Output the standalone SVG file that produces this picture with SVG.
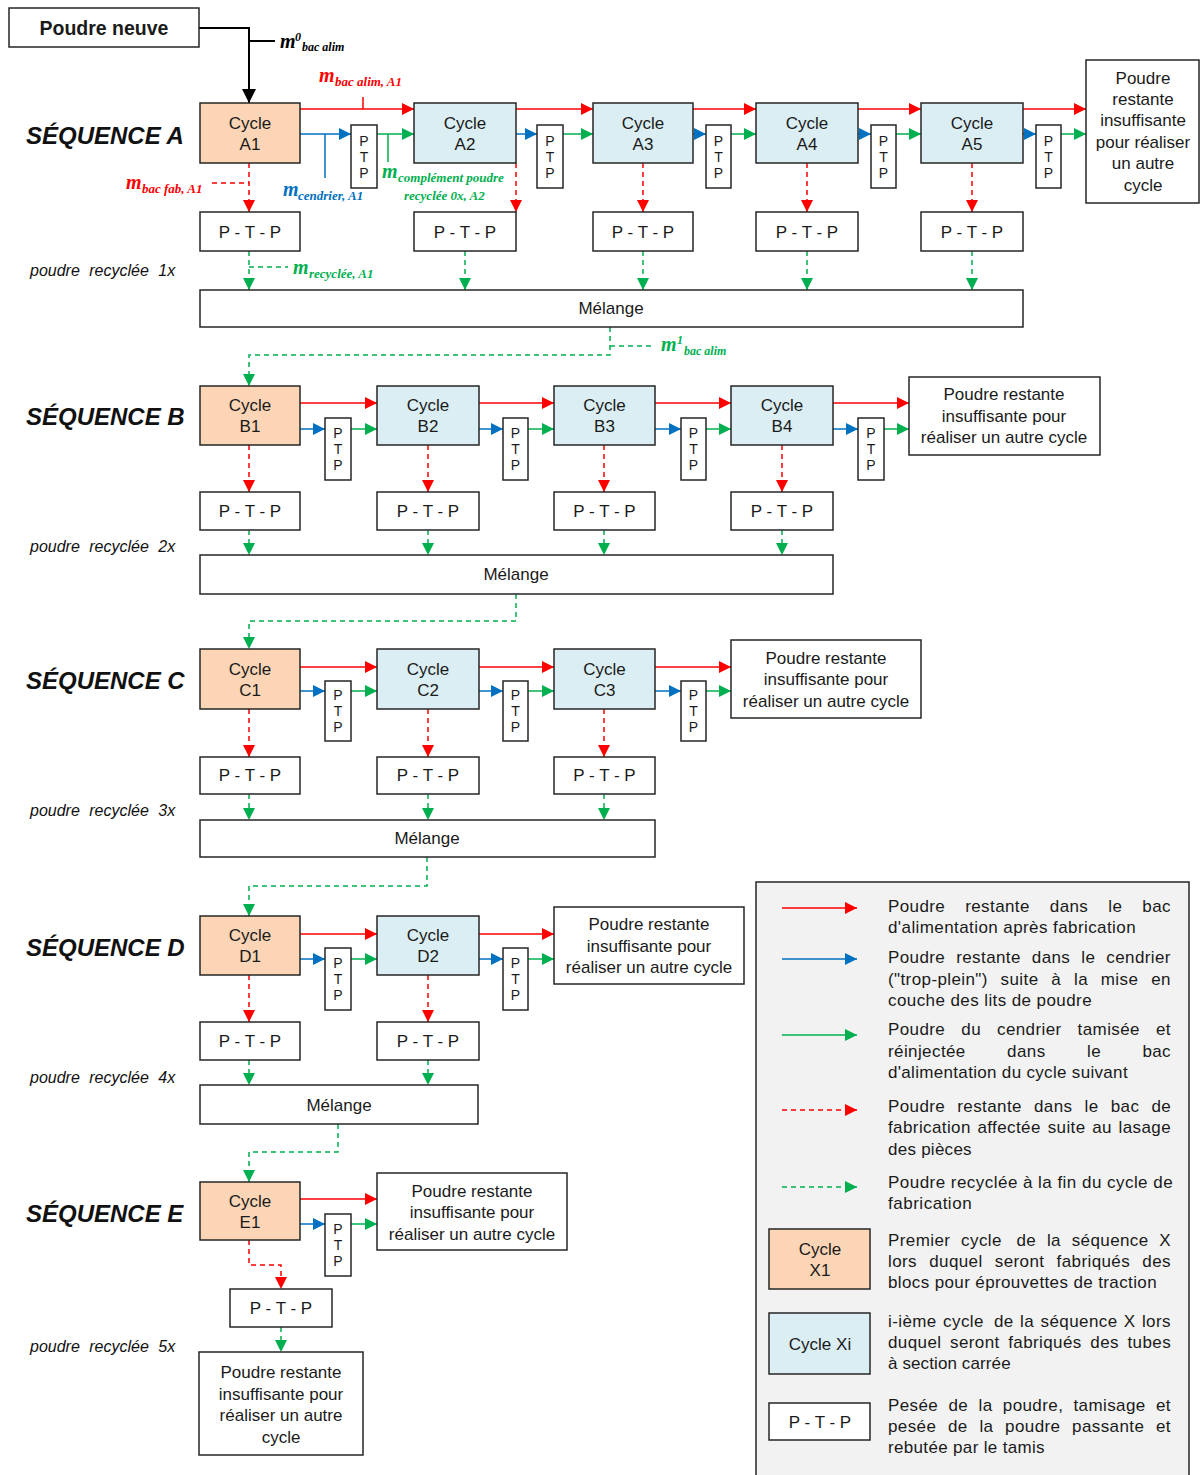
<svg xmlns="http://www.w3.org/2000/svg" width="1200" height="1475" viewBox="0 0 1200 1475">
<style>
.box{stroke:#262626;stroke-width:1.5}
.c1{fill:#FBD5B5}
.ci{fill:#DBEEF3}
.w{fill:#fff}
.t{font-family:"Liberation Sans",Arial,sans-serif;font-size:17px;fill:#1a1a1a;text-anchor:middle}
.p{font-size:14px}
.seq{font-family:"Liberation Sans",Arial,sans-serif;font-weight:bold;font-style:italic;font-size:24px;fill:#111}
.rec{font-family:"Liberation Sans",Arial,sans-serif;font-style:italic;font-size:16px;word-spacing:5px;fill:#111}
.lg{font-family:"Liberation Sans",Arial,sans-serif;font-size:17px;letter-spacing:0.4px;fill:#1a1a1a}
.mm{font-family:"Liberation Serif","Times New Roman",serif;font-weight:bold;font-style:italic}
.r{stroke:#FF0000;stroke-width:1.5;fill:none}
.b{stroke:#0070C0;stroke-width:1.5;fill:none}
.g{stroke:#00B050;stroke-width:1.5;fill:none}
.k{stroke:#000;stroke-width:2;fill:none}
.d{stroke-dasharray:5 4}
</style>
<defs>
<marker id="ar" viewBox="0 0 12 12" refX="12" refY="6" markerWidth="12" markerHeight="12" markerUnits="userSpaceOnUse" orient="auto"><path d="M0,0 L12,6 L0,12z" fill="#FF0000"/></marker>
<marker id="ab" viewBox="0 0 12 12" refX="12" refY="6" markerWidth="12" markerHeight="12" markerUnits="userSpaceOnUse" orient="auto"><path d="M0,0 L12,6 L0,12z" fill="#0070C0"/></marker>
<marker id="ag" viewBox="0 0 12 12" refX="12" refY="6" markerWidth="12" markerHeight="12" markerUnits="userSpaceOnUse" orient="auto"><path d="M0,0 L12,6 L0,12z" fill="#00B050"/></marker>
<marker id="ak" viewBox="0 0 12 12" refX="12" refY="6" markerWidth="14" markerHeight="14" markerUnits="userSpaceOnUse" orient="auto"><path d="M0,0 L12,6 L0,12z" fill="#000"/></marker>
</defs>
<rect width="1200" height="1475" fill="#fff"/>

<g id="legend">
<rect x="756" y="882" width="433" height="600" fill="#F2F2F2" stroke="#262626" stroke-width="1.5"/>
</g>

<g id="connectors">
<path class="k" d="M199,28 H249 V103" marker-end="url(#ak)"/>
<path class="k" d="M249,41 H275" stroke-width="1.5"/>
<!-- Row A -->
<path class="r" d="M300,109 H414" marker-end="url(#ar)"/>
<path class="r" d="M363,97 V109"/>
<path class="r" d="M516,109 H593" marker-end="url(#ar)"/>
<path class="r" d="M693,109 H756" marker-end="url(#ar)"/>
<path class="r" d="M858,109 H921" marker-end="url(#ar)"/>
<path class="r" d="M1023,109 H1086" marker-end="url(#ar)"/>
<path class="b" d="M300,134 H351" marker-end="url(#ab)"/>
<path class="b" d="M325,134 V178"/>
<path class="b" d="M516,134 H537" marker-end="url(#ab)"/>
<path class="b" d="M693,134 H706" marker-end="url(#ab)"/>
<path class="b" d="M858,134 H871" marker-end="url(#ab)"/>
<path class="b" d="M1023,134 H1036" marker-end="url(#ab)"/>
<path class="g" d="M377,134 H414" marker-end="url(#ag)"/>
<path class="g" d="M388,134 V162"/>
<path class="g" d="M563,134 H593" marker-end="url(#ag)"/>
<path class="g" d="M731,134 H756" marker-end="url(#ag)"/>
<path class="g" d="M896,134 H921" marker-end="url(#ag)"/>
<path class="g" d="M1061,134 H1086" marker-end="url(#ag)"/>
<path class="r d" d="M249,163 V212" marker-end="url(#ar)"/>
<path class="r d" d="M212,183 H249"/>
<path class="r d" d="M516,163 V212" marker-end="url(#ar)"/>
<path class="r d" d="M643,163 V212" marker-end="url(#ar)"/>
<path class="r d" d="M807,163 V212" marker-end="url(#ar)"/>
<path class="r d" d="M972,163 V212" marker-end="url(#ar)"/>
<path class="g d" d="M249,251 V290" marker-end="url(#ag)"/>
<path class="g d" d="M249,267 H288"/>
<path class="g d" d="M465,251 V290" marker-end="url(#ag)"/>
<path class="g d" d="M643,251 V290" marker-end="url(#ag)"/>
<path class="g d" d="M807,251 V290" marker-end="url(#ag)"/>
<path class="g d" d="M972,251 V290" marker-end="url(#ag)"/>
<path class="g d" d="M610,327 V355 H249 V386" marker-end="url(#ag)"/>
<path class="g d" d="M610,346 H655"/>
<!-- Row B -->
<path class="r" d="M300,403 H377" marker-end="url(#ar)"/>
<path class="r" d="M479,403 H554" marker-end="url(#ar)"/>
<path class="r" d="M655,403 H731" marker-end="url(#ar)"/>
<path class="r" d="M833,403 H909" marker-end="url(#ar)"/>
<path class="b" d="M300,429 H325" marker-end="url(#ab)"/>
<path class="b" d="M479,429 H503" marker-end="url(#ab)"/>
<path class="b" d="M655,429 H681" marker-end="url(#ab)"/>
<path class="b" d="M833,429 H858" marker-end="url(#ab)"/>
<path class="g" d="M351,429 H377" marker-end="url(#ag)"/>
<path class="g" d="M528,429 H554" marker-end="url(#ag)"/>
<path class="g" d="M706,429 H731" marker-end="url(#ag)"/>
<path class="g" d="M884,429 H909" marker-end="url(#ag)"/>
<path class="r d" d="M249,445 V492" marker-end="url(#ar)"/>
<path class="r d" d="M428,445 V492" marker-end="url(#ar)"/>
<path class="r d" d="M604,445 V492" marker-end="url(#ar)"/>
<path class="r d" d="M782,445 V492" marker-end="url(#ar)"/>
<path class="g d" d="M249,530 V555" marker-end="url(#ag)"/>
<path class="g d" d="M428,530 V555" marker-end="url(#ag)"/>
<path class="g d" d="M604,530 V555" marker-end="url(#ag)"/>
<path class="g d" d="M782,530 V555" marker-end="url(#ag)"/>
<path class="g d" d="M516,594 V621 H249 V649" marker-end="url(#ag)"/>
<!-- Row C -->
<path class="r" d="M300,667 H377" marker-end="url(#ar)"/>
<path class="r" d="M479,667 H554" marker-end="url(#ar)"/>
<path class="r" d="M655,667 H731" marker-end="url(#ar)"/>
<path class="b" d="M300,691 H325" marker-end="url(#ab)"/>
<path class="b" d="M479,691 H503" marker-end="url(#ab)"/>
<path class="b" d="M655,691 H681" marker-end="url(#ab)"/>
<path class="g" d="M351,691 H377" marker-end="url(#ag)"/>
<path class="g" d="M528,691 H554" marker-end="url(#ag)"/>
<path class="g" d="M706,691 H731" marker-end="url(#ag)"/>
<path class="r d" d="M249,709 V757" marker-end="url(#ar)"/>
<path class="r d" d="M428,709 V757" marker-end="url(#ar)"/>
<path class="r d" d="M604,709 V757" marker-end="url(#ar)"/>
<path class="g d" d="M249,794 V820" marker-end="url(#ag)"/>
<path class="g d" d="M428,794 V820" marker-end="url(#ag)"/>
<path class="g d" d="M604,794 V820" marker-end="url(#ag)"/>
<path class="g d" d="M427,857 V886 H249 V916" marker-end="url(#ag)"/>
<!-- Row D -->
<path class="r" d="M300,934 H377" marker-end="url(#ar)"/>
<path class="r" d="M479,934 H554" marker-end="url(#ar)"/>
<path class="b" d="M300,959 H325" marker-end="url(#ab)"/>
<path class="b" d="M479,959 H503" marker-end="url(#ab)"/>
<path class="g" d="M351,959 H377" marker-end="url(#ag)"/>
<path class="g" d="M528,959 H554" marker-end="url(#ag)"/>
<path class="r d" d="M249,975 V1022" marker-end="url(#ar)"/>
<path class="r d" d="M428,975 V1022" marker-end="url(#ar)"/>
<path class="g d" d="M249,1060 V1085" marker-end="url(#ag)"/>
<path class="g d" d="M428,1060 V1085" marker-end="url(#ag)"/>
<path class="g d" d="M338,1124 V1152 H249 V1182" marker-end="url(#ag)"/>
<!-- Row E -->
<path class="r" d="M300,1199 H377" marker-end="url(#ar)"/>
<path class="b" d="M300,1224 H325" marker-end="url(#ab)"/>
<path class="g" d="M351,1224 H377" marker-end="url(#ag)"/>
<path class="r d" d="M249,1240 V1265 H281 V1289" marker-end="url(#ar)"/>
<path class="g d" d="M281,1327 V1352" marker-end="url(#ag)"/>
<!-- legend arrows -->
<path class="r" d="M782,908 H857" marker-end="url(#ar)"/>
<path class="b" d="M782,959 H857" marker-end="url(#ab)"/>
<path class="g" d="M782,1035 H857" marker-end="url(#ag)"/>
<path class="r d" d="M782,1110 H857" marker-end="url(#ar)"/>
<path class="g d" d="M782,1187 H857" marker-end="url(#ag)"/>
</g>

<g id="labels">
<text class="mm" fill="#000"><tspan x="280" y="48" font-size="20">m</tspan><tspan x="295" y="41" font-size="12">0</tspan><tspan x="302" y="51" font-size="12">bac alim</tspan></text>
<text class="mm" fill="#FF0000"><tspan x="319" y="82" font-size="20">m</tspan><tspan x="335" y="86" font-size="13">bac alim, A1</tspan></text>
<text class="mm" fill="#FF0000"><tspan x="126" y="189" font-size="20">m</tspan><tspan x="142" y="193" font-size="13">bac fab, A1</tspan></text>
<text class="mm" fill="#0070C0"><tspan x="283" y="196" font-size="20">m</tspan><tspan x="298" y="200" font-size="13">cendrier, A1</tspan></text>
<text class="mm" fill="#00B050"><tspan x="382" y="178" font-size="20">m</tspan><tspan x="398" y="182" font-size="13">complément poudre</tspan><tspan x="404" y="200" font-size="13">recyclée 0x, A2</tspan></text>
<text class="mm" fill="#00B050"><tspan x="293" y="274" font-size="20">m</tspan><tspan x="309" y="278" font-size="13">recyclée, A1</tspan></text>
<text class="mm" fill="#00B050"><tspan x="661" y="351" font-size="20">m</tspan><tspan x="677" y="344" font-size="12">1</tspan><tspan x="684" y="355" font-size="12">bac alim</tspan></text>
</g>

<g id="seq-labels">
<text class="seq" x="26" y="144">SÉQUENCE A</text>
<text class="seq" x="26" y="425">SÉQUENCE B</text>
<text class="seq" x="26" y="689">SÉQUENCE C</text>
<text class="seq" x="26" y="956">SÉQUENCE D</text>
<text class="seq" x="26" y="1222">SÉQUENCE E</text>
<text class="rec" x="30" y="276">poudre recyclée 1x</text>
<text class="rec" x="30" y="552">poudre recyclée 2x</text>
<text class="rec" x="30" y="816">poudre recyclée 3x</text>
<text class="rec" x="30" y="1083">poudre recyclée 4x</text>
<text class="rec" x="30" y="1352">poudre recyclée 5x</text>
</g>

<g id="poudre-neuve"><rect class="box w" x="9" y="8" width="190" height="39"/><text class="t" x="104" y="35" style="font-weight:bold;font-size:19.5px">Poudre neuve</text></g>

<g id="A1"><rect class="box c1" x="200" y="103" width="100" height="60"/><text class="t" x="250" y="129">Cycle</text><text class="t" x="250" y="150">A1</text></g>
<g id="A2"><rect class="box ci" x="414" y="103" width="102" height="60"/><text class="t" x="465" y="129">Cycle</text><text class="t" x="465" y="150">A2</text></g>
<g id="A3"><rect class="box ci" x="593" y="103" width="100" height="60"/><text class="t" x="643" y="129">Cycle</text><text class="t" x="643" y="150">A3</text></g>
<g id="A4"><rect class="box ci" x="756" y="103" width="102" height="60"/><text class="t" x="807" y="129">Cycle</text><text class="t" x="807" y="150">A4</text></g>
<g id="A5"><rect class="box ci" x="921" y="103" width="102" height="60"/><text class="t" x="972" y="129">Cycle</text><text class="t" x="972" y="150">A5</text></g>
<g id="A-ptp1"><rect class="box w" x="351" y="125" width="26" height="63"/><text class="t p" x="364" y="146">P</text><text class="t p" x="364" y="162">T</text><text class="t p" x="364" y="178">P</text></g>
<g id="A-ptp2"><rect class="box w" x="537" y="125" width="26" height="63"/><text class="t p" x="550" y="146">P</text><text class="t p" x="550" y="162">T</text><text class="t p" x="550" y="178">P</text></g>
<g id="A-ptp3"><rect class="box w" x="706" y="125" width="25" height="63"/><text class="t p" x="718.5" y="146">P</text><text class="t p" x="718.5" y="162">T</text><text class="t p" x="718.5" y="178">P</text></g>
<g id="A-ptp4"><rect class="box w" x="871" y="125" width="25" height="63"/><text class="t p" x="883.5" y="146">P</text><text class="t p" x="883.5" y="162">T</text><text class="t p" x="883.5" y="178">P</text></g>
<g id="A-ptp5"><rect class="box w" x="1036" y="125" width="25" height="63"/><text class="t p" x="1048.5" y="146">P</text><text class="t p" x="1048.5" y="162">T</text><text class="t p" x="1048.5" y="178">P</text></g>
<g id="A-PTP1"><rect class="box w" x="200" y="212" width="100" height="39"/><text class="t" x="250" y="238">P - T - P</text></g>
<g id="A-PTP2"><rect class="box w" x="414" y="212" width="102" height="39"/><text class="t" x="465" y="238">P - T - P</text></g>
<g id="A-PTP3"><rect class="box w" x="593" y="212" width="100" height="39"/><text class="t" x="643" y="238">P - T - P</text></g>
<g id="A-PTP4"><rect class="box w" x="756" y="212" width="102" height="39"/><text class="t" x="807" y="238">P - T - P</text></g>
<g id="A-PTP5"><rect class="box w" x="921" y="212" width="102" height="39"/><text class="t" x="972" y="238">P - T - P</text></g>
<g id="A-melange"><rect class="box w" x="200" y="290" width="823" height="37"/><text class="t" x="611" y="314">Mélange</text></g>
<g id="A-fin"><rect class="box w" x="1086" y="60" width="113" height="143"/><text class="t" x="1143" y="84">Poudre</text><text class="t" x="1143" y="105">restante</text><text class="t" x="1143" y="126">insuffisante</text><text class="t" x="1143" y="148">pour réaliser</text><text class="t" x="1143" y="169">un autre</text><text class="t" x="1143" y="191">cycle</text></g>

<g id="B1"><rect class="box c1" x="200" y="386" width="100" height="59"/><text class="t" x="250" y="411">Cycle</text><text class="t" x="250" y="432">B1</text></g>
<g id="B2"><rect class="box ci" x="377" y="386" width="102" height="59"/><text class="t" x="428" y="411">Cycle</text><text class="t" x="428" y="432">B2</text></g>
<g id="B3"><rect class="box ci" x="554" y="386" width="101" height="59"/><text class="t" x="604.5" y="411">Cycle</text><text class="t" x="604.5" y="432">B3</text></g>
<g id="B4"><rect class="box ci" x="731" y="386" width="102" height="59"/><text class="t" x="782" y="411">Cycle</text><text class="t" x="782" y="432">B4</text></g>
<g id="B-ptp1"><rect class="box w" x="325" y="418" width="26" height="62"/><text class="t p" x="338" y="438">P</text><text class="t p" x="338" y="454">T</text><text class="t p" x="338" y="470">P</text></g>
<g id="B-ptp2"><rect class="box w" x="503" y="418" width="25" height="62"/><text class="t p" x="515.5" y="438">P</text><text class="t p" x="515.5" y="454">T</text><text class="t p" x="515.5" y="470">P</text></g>
<g id="B-ptp3"><rect class="box w" x="681" y="418" width="25" height="62"/><text class="t p" x="693.5" y="438">P</text><text class="t p" x="693.5" y="454">T</text><text class="t p" x="693.5" y="470">P</text></g>
<g id="B-ptp4"><rect class="box w" x="858" y="418" width="26" height="62"/><text class="t p" x="871" y="438">P</text><text class="t p" x="871" y="454">T</text><text class="t p" x="871" y="470">P</text></g>
<g id="B-PTP1"><rect class="box w" x="200" y="492" width="100" height="38"/><text class="t" x="250" y="517">P - T - P</text></g>
<g id="B-PTP2"><rect class="box w" x="377" y="492" width="102" height="38"/><text class="t" x="428" y="517">P - T - P</text></g>
<g id="B-PTP3"><rect class="box w" x="554" y="492" width="101" height="38"/><text class="t" x="604.5" y="517">P - T - P</text></g>
<g id="B-PTP4"><rect class="box w" x="731" y="492" width="102" height="38"/><text class="t" x="782" y="517">P - T - P</text></g>
<g id="B-melange"><rect class="box w" x="200" y="555" width="633" height="39"/><text class="t" x="516" y="580">Mélange</text></g>
<g id="B-fin"><rect class="box w" x="909" y="377" width="191" height="78"/><text class="t" x="1004" y="400">Poudre restante</text><text class="t" x="1004" y="422">insuffisante pour</text><text class="t" x="1004" y="443">réaliser un autre cycle</text></g>

<g id="C1"><rect class="box c1" x="200" y="649" width="100" height="60"/><text class="t" x="250" y="675">Cycle</text><text class="t" x="250" y="696">C1</text></g>
<g id="C2"><rect class="box ci" x="377" y="649" width="102" height="60"/><text class="t" x="428" y="675">Cycle</text><text class="t" x="428" y="696">C2</text></g>
<g id="C3"><rect class="box ci" x="554" y="649" width="101" height="60"/><text class="t" x="604.5" y="675">Cycle</text><text class="t" x="604.5" y="696">C3</text></g>
<g id="C-ptp1"><rect class="box w" x="325" y="681" width="26" height="60"/><text class="t p" x="338" y="700">P</text><text class="t p" x="338" y="716">T</text><text class="t p" x="338" y="732">P</text></g>
<g id="C-ptp2"><rect class="box w" x="503" y="681" width="25" height="60"/><text class="t p" x="515.5" y="700">P</text><text class="t p" x="515.5" y="716">T</text><text class="t p" x="515.5" y="732">P</text></g>
<g id="C-ptp3"><rect class="box w" x="681" y="681" width="25" height="60"/><text class="t p" x="693.5" y="700">P</text><text class="t p" x="693.5" y="716">T</text><text class="t p" x="693.5" y="732">P</text></g>
<g id="C-PTP1"><rect class="box w" x="200" y="757" width="100" height="37"/><text class="t" x="250" y="781">P - T - P</text></g>
<g id="C-PTP2"><rect class="box w" x="377" y="757" width="102" height="37"/><text class="t" x="428" y="781">P - T - P</text></g>
<g id="C-PTP3"><rect class="box w" x="554" y="757" width="101" height="37"/><text class="t" x="604.5" y="781">P - T - P</text></g>
<g id="C-melange"><rect class="box w" x="200" y="820" width="455" height="37"/><text class="t" x="427" y="844">Mélange</text></g>
<g id="C-fin"><rect class="box w" x="731" y="640" width="190" height="78"/><text class="t" x="826" y="664">Poudre restante</text><text class="t" x="826" y="685">insuffisante pour</text><text class="t" x="826" y="707">réaliser un autre cycle</text></g>

<g id="D1"><rect class="box c1" x="200" y="916" width="100" height="59"/><text class="t" x="250" y="941">Cycle</text><text class="t" x="250" y="962">D1</text></g>
<g id="D2"><rect class="box ci" x="377" y="916" width="102" height="59"/><text class="t" x="428" y="941">Cycle</text><text class="t" x="428" y="962">D2</text></g>
<g id="D-ptp1"><rect class="box w" x="325" y="948" width="26" height="62"/><text class="t p" x="338" y="968">P</text><text class="t p" x="338" y="984">T</text><text class="t p" x="338" y="1000">P</text></g>
<g id="D-ptp2"><rect class="box w" x="503" y="948" width="25" height="62"/><text class="t p" x="515.5" y="968">P</text><text class="t p" x="515.5" y="984">T</text><text class="t p" x="515.5" y="1000">P</text></g>
<g id="D-PTP1"><rect class="box w" x="200" y="1022" width="100" height="38"/><text class="t" x="250" y="1047">P - T - P</text></g>
<g id="D-PTP2"><rect class="box w" x="377" y="1022" width="102" height="38"/><text class="t" x="428" y="1047">P - T - P</text></g>
<g id="D-melange"><rect class="box w" x="200" y="1085" width="278" height="39"/><text class="t" x="339" y="1111">Mélange</text></g>
<g id="D-fin"><rect class="box w" x="554" y="907" width="190" height="77"/><text class="t" x="649" y="930">Poudre restante</text><text class="t" x="649" y="952">insuffisante pour</text><text class="t" x="649" y="973">réaliser un autre cycle</text></g>

<g id="E1"><rect class="box c1" x="200" y="1182" width="100" height="58"/><text class="t" x="250" y="1207">Cycle</text><text class="t" x="250" y="1228">E1</text></g>
<g id="E-ptp1"><rect class="box w" x="325" y="1214" width="26" height="62"/><text class="t p" x="338" y="1234">P</text><text class="t p" x="338" y="1250">T</text><text class="t p" x="338" y="1266">P</text></g>
<g id="E-PTP1"><rect class="box w" x="230" y="1289" width="102" height="38"/><text class="t" x="281" y="1314">P - T - P</text></g>
<g id="E-fin1"><rect class="box w" x="377" y="1173" width="190" height="77"/><text class="t" x="472" y="1197">Poudre restante</text><text class="t" x="472" y="1218">insuffisante pour</text><text class="t" x="472" y="1240">réaliser un autre cycle</text></g>
<g id="E-fin2"><rect class="box w" x="199" y="1352" width="164" height="103"/><text class="t" x="281" y="1378">Poudre restante</text><text class="t" x="281" y="1400">insuffisante pour</text><text class="t" x="281" y="1421">réaliser un autre</text><text class="t" x="281" y="1443">cycle</text></g>

<g id="legend-items">
<text class="lg"><tspan x="888" y="912">Poudre</tspan><tspan x="965.2" y="912">restante</tspan><tspan x="1049.8" y="912">dans</tspan><tspan x="1108.3" y="912">le</tspan><tspan x="1142.3" y="912">bac</tspan></text>
<text class="lg" x="888" y="933" textLength="248" lengthAdjust="spacing">d'alimentation après fabrication</text>
<text class="lg"><tspan x="888" y="963">Poudre</tspan><tspan x="956.2" y="963">restante</tspan><tspan x="1031.8" y="963">dans</tspan><tspan x="1081.3" y="963">le</tspan><tspan x="1106.3" y="963">cendrier</tspan></text>
<text class="lg"><tspan x="888" y="985">("trop-plein")</tspan><tspan x="1000.6" y="985">suite</tspan><tspan x="1051.3" y="985">à</tspan><tspan x="1074" y="985">la</tspan><tspan x="1100.8" y="985">mise</tspan><tspan x="1151.2" y="985">en</tspan></text>
<text class="lg" x="888" y="1006" textLength="204" lengthAdjust="spacing">couche des lits de poudre</text>
<text class="lg"><tspan x="888" y="1035">Poudre</tspan><tspan x="961.3" y="1035">du</tspan><tspan x="997" y="1035">cendrier</tspan><tspan x="1077.6" y="1035">tamisée</tspan><tspan x="1156" y="1035">et</tspan></text>
<text class="lg"><tspan x="888" y="1057">réinjectée</tspan><tspan x="1007.1" y="1057">dans</tspan><tspan x="1087" y="1057">le</tspan><tspan x="1142.4" y="1057">bac</tspan></text>
<text class="lg" x="888" y="1078" textLength="240" lengthAdjust="spacing">d'alimentation du cycle suivant</text>
<text class="lg"><tspan x="888" y="1112">Poudre</tspan><tspan x="957.3" y="1112">restante</tspan><tspan x="1034" y="1112">dans</tspan><tspan x="1084.6" y="1112">le</tspan><tspan x="1110.7" y="1112">bac</tspan><tspan x="1151.4" y="1112">de</tspan></text>
<text class="lg"><tspan x="888" y="1133">fabrication</tspan><tspan x="977.4" y="1133">affectée</tspan><tspan x="1047.7" y="1133">suite</tspan><tspan x="1092.2" y="1133">au</tspan><tspan x="1118.5" y="1133">lasage</tspan></text>
<text class="lg" x="888" y="1155" textLength="84" lengthAdjust="spacing">des pièces</text>
<text class="lg" x="888" y="1188" textLength="285" lengthAdjust="spacing">Poudre recyclée à la fin du cycle de</text>
<text class="lg" x="888" y="1209" textLength="84" lengthAdjust="spacing">fabrication</text>
<text class="lg"><tspan x="888" y="1246">Premier</tspan><tspan x="961.1" y="1246">cycle</tspan><tspan x="1016.4" y="1246">de</tspan><tspan x="1046.9" y="1246">la</tspan><tspan x="1071.7" y="1246">séquence</tspan><tspan x="1159.3" y="1246">X</tspan></text>
<text class="lg"><tspan x="888" y="1267">lors</tspan><tspan x="929.2" y="1267">duquel</tspan><tspan x="994.8" y="1267">seront</tspan><tspan x="1056.6" y="1267">fabriqués</tspan><tspan x="1142.3" y="1267">des</tspan></text>
<text class="lg" x="888" y="1288" textLength="269" lengthAdjust="spacing">blocs pour éprouvettes de traction</text>
<text class="lg"><tspan x="888" y="1327">i-ième</tspan><tspan x="943.1" y="1327">cycle</tspan><tspan x="994" y="1327">de</tspan><tspan x="1020.1" y="1327">la</tspan><tspan x="1040.6" y="1327">séquence</tspan><tspan x="1123.8" y="1327">X</tspan><tspan x="1141.9" y="1327">lors</tspan></text>
<text class="lg"><tspan x="888" y="1348">duquel</tspan><tspan x="950" y="1348">seront</tspan><tspan x="1008.2" y="1348">fabriqués</tspan><tspan x="1090.3" y="1348">des</tspan><tspan x="1127.5" y="1348">tubes</tspan></text>
<text class="lg" x="888" y="1369" textLength="123" lengthAdjust="spacing">à section carrée</text>
<text class="lg"><tspan x="888" y="1411">Pesée</tspan><tspan x="948.5" y="1411">de</tspan><tspan x="978.5" y="1411">la</tspan><tspan x="1002.8" y="1411">poudre,</tspan><tspan x="1073.5" y="1411">tamisage</tspan><tspan x="1156" y="1411">et</tspan></text>
<text class="lg"><tspan x="888" y="1432">pesée</tspan><tspan x="948" y="1432">de</tspan><tspan x="979.4" y="1432">la</tspan><tspan x="1005.1" y="1432">poudre</tspan><tspan x="1072.1" y="1432">passante</tspan><tspan x="1156" y="1432">et</tspan></text>
<text class="lg" x="888" y="1453" textLength="157" lengthAdjust="spacing">rebutée par le tamis</text>
</g>
<g id="leg-X1"><rect class="box c1" x="769" y="1229" width="101" height="60"/><text class="t" x="820" y="1255">Cycle</text><text class="t" x="820" y="1276">X1</text></g>
<g id="leg-Xi"><rect class="box ci" x="769" y="1313" width="101" height="61"/><text class="t" x="820" y="1350">Cycle Xi</text></g>
<g id="leg-PTP"><rect class="box w" x="769" y="1403" width="101" height="37"/><text class="t" x="820" y="1428">P - T - P</text></g>
</svg>
